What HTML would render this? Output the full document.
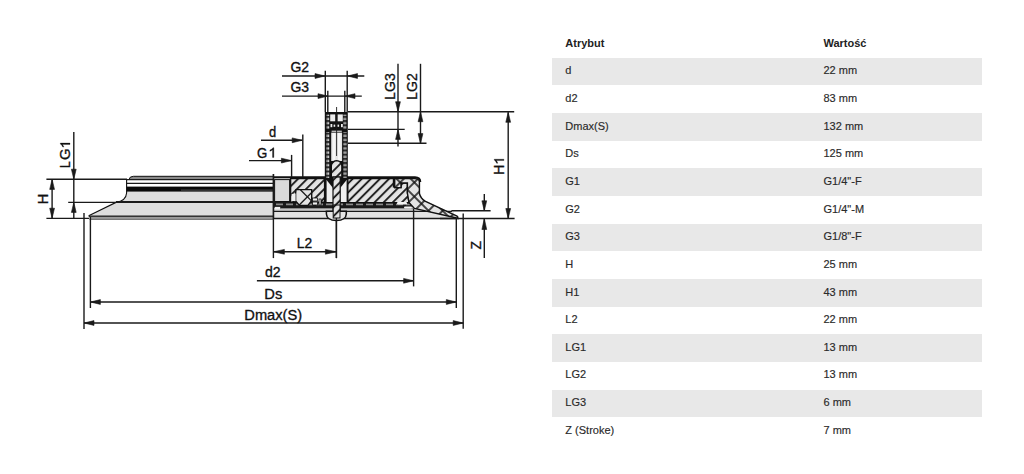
<!DOCTYPE html>
<html><head><meta charset="utf-8"><title>Specyfikacja</title>
<style>
html,body{margin:0;padding:0;background:#fff;}
body{width:1024px;height:474px;position:relative;overflow:hidden;font-family:"Liberation Sans",sans-serif;}
svg.dr{position:absolute;left:0;top:0;}
svg.dr text{font-family:"Liberation Sans",sans-serif;fill:#111;stroke:#111;stroke-width:0.32px;}
.tbl{position:absolute;left:0;top:0;width:1024px;height:474px;}
.row{position:absolute;left:551.5px;width:430px;height:27.65px;font-size:11px;color:#2a2a2a;-webkit-text-stroke:0.15px #2a2a2a;}
.row.g{background:#e8e8e8;}
.row span{position:absolute;top:6.5px;line-height:12px;white-space:nowrap;}
.c1{left:13.8px;}
.c2{left:272px;}
.hdr span{font-weight:bold;color:#222;-webkit-text-stroke:0;}
</style></head>
<body>
<svg class="dr" width="540" height="474" viewBox="0 0 540 474">
<path d="M129,179.5 Q129.5,176.3 133.5,176.3 L273.5,176.3 L273.5,179.5 Z" fill="#8a8a8a" stroke="#111" stroke-width="1"/>
<rect x="127" y="179.5" width="146.5" height="7" fill="#fff"/>
<line x1="126.5" y1="179.6" x2="273.5" y2="179.6" stroke="#1a1a1a" stroke-width="1.2" />
<line x1="126.5" y1="183.4" x2="273.5" y2="183.4" stroke="#1a1a1a" stroke-width="1.3" />
<rect x="126.6" y="186.6" width="147" height="5.2" fill="#0a0a0a"/>
<rect x="181" y="189.3" width="92.5" height="2.5" fill="#333"/>
<path d="M126.6,191.8 L126.6,193 Q126,201 116,202.4 L88.7,215.7 L273.5,215.7 L273.5,191.8 Z" fill="#dedede"/>
<path d="M126.6,179 L126.6,193 Q126,201 116,202.4 L88.7,215.7" fill="none" stroke="#111" stroke-width="1.1"/>
<line x1="116" y1="202.0" x2="273.5" y2="202.0" stroke="#1a1a1a" stroke-width="1.8" />
<line x1="88.7" y1="216.2" x2="273.5" y2="216.2" stroke="#1a1a1a" stroke-width="1.6" />
<rect x="89.5" y="216.8" width="184" height="2.6" fill="#9a9a9a"/>
<line x1="89.5" y1="219.4" x2="273.5" y2="219.4" stroke="#555" stroke-width="0.8" />
<defs>
<pattern id="h45" patternUnits="userSpaceOnUse" width="6.43" height="10" patternTransform="rotate(45)">
<rect x="0" y="0" width="6.43" height="10" fill="#e4e4e4"/>
<line x1="2.9" y1="-1" x2="2.9" y2="11" stroke="#111" stroke-width="1.8"/>
</pattern>
<pattern id="hx" patternUnits="userSpaceOnUse" width="10" height="10" patternTransform="rotate(45)">
<rect x="0" y="0" width="10" height="10" fill="#e4e4e4"/>
<line x1="2" y1="-1" x2="2" y2="11" stroke="#111" stroke-width="1.5"/>
<line x1="-1" y1="6" x2="11" y2="6" stroke="#111" stroke-width="1.5"/>
</pattern>
<pattern id="thr" patternUnits="userSpaceOnUse" width="6" height="4.4">
<rect x="0" y="0" width="6" height="4.4" fill="#111"/>
<rect x="1.2" y="0.4" width="2.6" height="2.2" fill="#c8c8c8"/>
</pattern>
<pattern id="thr2" patternUnits="userSpaceOnUse" width="3" height="4.2">
<rect x="0" y="0" width="3" height="4.2" fill="#2a2a2a"/>
<rect x="0.3" y="0.3" width="2.4" height="2.2" fill="#cfcfcf"/>
</pattern>
</defs>
<path d="M273.5,177.3 L415,177.3 Q420.3,177.5 420.3,182 L420.3,193 Q421,198 426,201 L457.5,215.8 Q460,217.6 457,218.4 L273.5,218.4 Z" fill="#e2e2e2"/>
<rect x="274" y="201.6" width="138" height="6.4" fill="#1a1a1a"/>
<line x1="276" y1="204.4" x2="410" y2="204.4" stroke="#8a8a8a" stroke-width="1.6" stroke-dasharray="7 3"/>
<rect x="274.6" y="206.9" width="5.6" height="2.5" fill="#f2f2f2"/>
<line x1="280" y1="208.9" x2="414" y2="208.9" stroke="#444" stroke-width="0.9" />
<rect x="274" y="209.4" width="140" height="1.5" fill="#d8d8d8"/>
<line x1="274" y1="211.4" x2="452" y2="211.4" stroke="#1a1a1a" stroke-width="1.3" />
<rect x="274" y="212.1" width="180" height="5.6" fill="#e4e4e4"/>
<line x1="273.5" y1="218.5" x2="459" y2="218.5" stroke="#1a1a1a" stroke-width="1.6" />
<rect x="274.6" y="179.6" width="15" height="21.9" fill="#dadada" stroke="#111" stroke-width="1"/>
<path d="M290.6,178.6 L324.6,178.6 L324.6,202.3 L290.6,202.3 Z" fill="url(#h45)" stroke="#111" stroke-width="1.4"/>
<path d="M296,189.6 L311.7,189.6 L311.7,200.5 L308,205.4 L299.5,205.4 L295.6,201 L295.6,193.5 Z" fill="#e4e4e4" stroke="#111" stroke-width="1.4"/>
<path d="M291.6,194 L295.6,193.5 L295.6,201 L291.6,201 Z" fill="#f0f0f0"/>
<line x1="300.4" y1="189.8" x2="311.7" y2="201.1" stroke="#1a1a1a" stroke-width="1.3" />
<line x1="299" y1="205.2" x2="311.7" y2="192.5" stroke="#1a1a1a" stroke-width="1.3" />
<rect x="312.5" y="198" width="5" height="3" fill="#eee" stroke="#111" stroke-width="0.8"/>
<rect x="312.5" y="202" width="5" height="3" fill="#eee" stroke="#111" stroke-width="0.8"/>
<rect x="319" y="199" width="2" height="6" fill="#eee" stroke="#111" stroke-width="0.8"/>
<path d="M347.8,178.6 L394.7,178.6 L394.7,187.6 L401,187.6 L401,183 L407.4,183 L407.4,193 L409,202.6 L347.8,202.6 Z" fill="url(#h45)" stroke="#111" stroke-width="1.4"/>
<rect x="392.8" y="178" width="2.2" height="9.6" fill="#111"/>
<path d="M394.7,178.6 L415,178.6 Q419.4,178.8 419.4,182 L419.4,193.5 Q420.5,198.5 425.5,201.3 L457,216.2 Q458.8,217.4 456.5,218 L414.4,208.4 L409,202.6 L407.4,193 L407.4,183 L401,183 L401,187.6 L394.7,187.6 Z" fill="url(#hx)" stroke="#111" stroke-width="1.4"/>
<rect x="397" y="202" width="10" height="2.4" rx="1.2" fill="#f4f4f4"/>
<rect x="404" y="206.6" width="8" height="2" rx="1" fill="#f4f4f4"/>
<path d="M273.5,177.2 L415,177.2 Q420.3,177.4 420.3,182" fill="none" stroke="#111" stroke-width="2"/>
<line x1="273.5" y1="174" x2="273.5" y2="219" stroke="#1a1a1a" stroke-width="1.3" />
<rect x="324.8" y="112" width="23" height="91" fill="#111"/>
<rect x="326.5" y="114.6" width="2.8" height="14.6" fill="url(#thr2)"/>
<rect x="343.5" y="114.6" width="2.8" height="14.6" fill="url(#thr2)"/>
<rect x="330.2" y="114.4" width="5" height="6.9" fill="#eee"/>
<rect x="337.6" y="114.4" width="5.2" height="6.9" fill="#eee"/>
<rect x="330.5" y="124" width="1.8" height="3.2" fill="#eee"/>
<rect x="333.6" y="124.6" width="1.6" height="2.2" fill="#eee"/>
<rect x="337.5" y="124.6" width="1.6" height="2.2" fill="#eee"/>
<rect x="341" y="124" width="1.8" height="3.2" fill="#eee"/>
<rect x="331.6" y="130.6" width="10.2" height="1.4" fill="#bbb"/>
<rect x="326.3" y="132" width="3" height="46" fill="url(#thr2)"/>
<rect x="343.5" y="132" width="3" height="46" fill="url(#thr2)"/>
<rect x="331.2" y="132.6" width="10.9" height="28.4" fill="#e4e4e4"/>
<rect x="332.6" y="133" width="2.6" height="27.5" fill="#f6f6f6"/>
<rect x="338" y="133" width="2.6" height="27.5" fill="#f6f6f6"/>
<line x1="336.6" y1="107" x2="336.6" y2="156" stroke="#1a1a1a" stroke-width="0.9" />
<path d="M331.4,177 L331.4,166 Q331.6,161 336.6,160.6 Q341.6,161 341.8,166 L341.8,177 Z" fill="url(#h45)" stroke="#111" stroke-width="1.2"/>
<rect x="326.6" y="180" width="6.4" height="22" fill="#efefef"/>
<rect x="340.2" y="180" width="6.4" height="22" fill="#efefef"/>
<path d="M326.6,180 L333,180 L333,188 Z" fill="#111"/>
<path d="M346.6,180 L340.2,180 L340.2,188 Z" fill="#111"/>
<rect x="333" y="177" width="7.2" height="38" fill="url(#h45)" stroke="#111" stroke-width="1.2"/>
<path d="M326.4,211.3 L346.3,211.3 L346.3,214 Q346,220.4 336.4,220.6 Q326.8,220.4 326.4,214 Z" fill="#e6e6e6" stroke="#111" stroke-width="1.5"/>
<rect x="333.2" y="205" width="6.8" height="13" fill="url(#h45)" stroke="#111" stroke-width="1"/>
<line x1="336.4" y1="218" x2="336.4" y2="258.1" stroke="#1a1a1a" stroke-width="1.4" />
<line x1="46.4" y1="179.3" x2="127" y2="179.3" stroke="#1a1a1a" stroke-width="1.4" />
<line x1="68.2" y1="202.4" x2="116" y2="202.4" stroke="#1a1a1a" stroke-width="1.4" />
<line x1="46.4" y1="218.4" x2="89" y2="218.4" stroke="#1a1a1a" stroke-width="1.4" />
<line x1="52.1" y1="179.4" x2="52.1" y2="218.2" stroke="#1a1a1a" stroke-width="1.4" />
<polygon points="52.10,179.40 49.70,189.40 54.50,189.40" fill="#1a1a1a" stroke="#1a1a1a" stroke-width="0.6" stroke-linejoin="round"/>
<polygon points="52.10,218.20 49.70,208.20 54.50,208.20" fill="#1a1a1a" stroke="#1a1a1a" stroke-width="0.6" stroke-linejoin="round"/>
<text transform="translate(48.2,199) rotate(-90)" x="0" y="0" font-size="13.8" text-anchor="middle" textLength="10.6" lengthAdjust="spacingAndGlyphs">H</text>
<line x1="73.8" y1="132" x2="73.8" y2="218.6" stroke="#1a1a1a" stroke-width="1.4" />
<polygon points="73.80,179.20 71.40,169.20 76.20,169.20" fill="#1a1a1a" stroke="#1a1a1a" stroke-width="0.6" stroke-linejoin="round"/>
<polygon points="73.80,202.40 71.40,212.40 76.20,212.40" fill="#1a1a1a" stroke="#1a1a1a" stroke-width="0.6" stroke-linejoin="round"/>
<text transform="translate(70.0,154.8) rotate(-90)" x="-13.19" y="0" font-size="13.8" textLength="6.69" lengthAdjust="spacingAndGlyphs">L</text>
<text transform="translate(70.0,154.8) rotate(-90)" x="-5.15" y="0" font-size="13.8" textLength="11.56" lengthAdjust="spacingAndGlyphs">G</text>
<path transform="translate(70.0,154.8) rotate(-90) translate(6.15,0) scale(0.007275,-0.006592)" d="M763,0 L583,0 L583,1147 Q518,1085 412,1023 Q306,961 222,930 L222,1104 Q373,1175 486,1276 Q599,1377 646,1466 L763,1466 Z" fill="#111" stroke="#111" stroke-width="44.0"/>
<line x1="84" y1="213" x2="84" y2="329" stroke="#1a1a1a" stroke-width="1.4" />
<line x1="463.2" y1="213.5" x2="463.2" y2="328.8" stroke="#1a1a1a" stroke-width="1.4" />
<line x1="90.4" y1="217" x2="90.4" y2="308" stroke="#1a1a1a" stroke-width="1.4" />
<line x1="456.3" y1="218" x2="456.3" y2="308" stroke="#1a1a1a" stroke-width="1.4" />
<line x1="84" y1="323" x2="463.2" y2="323" stroke="#1a1a1a" stroke-width="1.4" />
<polygon points="84.00,323.00 94.00,320.60 94.00,325.40" fill="#1a1a1a" stroke="#1a1a1a" stroke-width="0.6" stroke-linejoin="round"/>
<polygon points="463.20,323.00 453.20,320.60 453.20,325.40" fill="#1a1a1a" stroke="#1a1a1a" stroke-width="0.6" stroke-linejoin="round"/>
<line x1="90.4" y1="302" x2="456.3" y2="302" stroke="#1a1a1a" stroke-width="1.4" />
<polygon points="90.40,302.00 100.40,299.60 100.40,304.40" fill="#1a1a1a" stroke="#1a1a1a" stroke-width="0.6" stroke-linejoin="round"/>
<polygon points="456.30,302.00 446.30,299.60 446.30,304.40" fill="#1a1a1a" stroke="#1a1a1a" stroke-width="0.6" stroke-linejoin="round"/>
<text x="244.3" y="319.9" font-size="13.8" text-anchor="start" textLength="57.8" lengthAdjust="spacingAndGlyphs">Dmax(S)</text>
<text x="264.3" y="298.8" font-size="13.8" text-anchor="start" textLength="18" lengthAdjust="spacingAndGlyphs">Ds</text>
<line x1="256.9" y1="280.8" x2="413.6" y2="280.8" stroke="#1a1a1a" stroke-width="1.4" />
<polygon points="413.60,280.80 403.60,278.40 403.60,283.20" fill="#1a1a1a" stroke="#1a1a1a" stroke-width="0.6" stroke-linejoin="round"/>
<line x1="413.6" y1="208.9" x2="413.6" y2="286.4" stroke="#1a1a1a" stroke-width="1.4" />
<text x="264.9" y="277.3" font-size="13.8" text-anchor="start" textLength="15.6" lengthAdjust="spacingAndGlyphs">d2</text>
<line x1="273.4" y1="174" x2="273.4" y2="258.1" stroke="#1a1a1a" stroke-width="1.4" />
<line x1="336.4" y1="220" x2="336.4" y2="258.1" stroke="#1a1a1a" stroke-width="1.4" />
<line x1="273.4" y1="251.8" x2="336.4" y2="251.8" stroke="#1a1a1a" stroke-width="1.4" />
<polygon points="273.40,251.80 284.40,249.40 284.40,254.20" fill="#1a1a1a" stroke="#1a1a1a" stroke-width="0.6" stroke-linejoin="round"/>
<polygon points="336.40,251.80 325.40,249.40 325.40,254.20" fill="#1a1a1a" stroke="#1a1a1a" stroke-width="0.6" stroke-linejoin="round"/>
<text x="296.7" y="247.8" font-size="13.8" text-anchor="start" textLength="15.4" lengthAdjust="spacingAndGlyphs">L2</text>
<line x1="261" y1="140.3" x2="302.2" y2="140.3" stroke="#1a1a1a" stroke-width="1.4" />
<polygon points="302.20,140.30 292.20,137.90 292.20,142.70" fill="#1a1a1a" stroke="#1a1a1a" stroke-width="0.6" stroke-linejoin="round"/>
<line x1="302.8" y1="134.6" x2="302.8" y2="177" stroke="#1a1a1a" stroke-width="1.4" />
<text x="269.1" y="137.0" font-size="13.8" text-anchor="start" textLength="7.2" lengthAdjust="spacingAndGlyphs">d</text>
<line x1="249" y1="160.6" x2="291.4" y2="160.6" stroke="#1a1a1a" stroke-width="1.4" />
<polygon points="291.40,160.60 281.40,158.20 281.40,163.00" fill="#1a1a1a" stroke="#1a1a1a" stroke-width="0.6" stroke-linejoin="round"/>
<line x1="291.6" y1="154.9" x2="291.6" y2="177" stroke="#1a1a1a" stroke-width="1.4" />
<text x="257.1" y="157.6" font-size="13.8" text-anchor="start" textLength="10.3" lengthAdjust="spacingAndGlyphs">G</text>
<path transform="translate(268.3,157.4) scale(0.007275,-0.006592)" d="M763,0 L583,0 L583,1147 Q518,1085 412,1023 Q306,961 222,930 L222,1104 Q373,1175 486,1276 Q599,1377 646,1466 L763,1466 Z" fill="#111" stroke="#111" stroke-width="44.0"/>
<line x1="282" y1="76" x2="364.3" y2="76" stroke="#1a1a1a" stroke-width="1.4" />
<polygon points="325.00,76.00 315.00,73.60 315.00,78.40" fill="#1a1a1a" stroke="#1a1a1a" stroke-width="0.6" stroke-linejoin="round"/>
<polygon points="347.50,76.00 357.50,73.60 357.50,78.40" fill="#1a1a1a" stroke="#1a1a1a" stroke-width="0.6" stroke-linejoin="round"/>
<line x1="325.3" y1="70.8" x2="325.3" y2="112" stroke="#1a1a1a" stroke-width="1.4" />
<line x1="347.2" y1="70.8" x2="347.2" y2="112" stroke="#1a1a1a" stroke-width="1.4" />
<text x="290.4" y="72.0" font-size="13.8" text-anchor="start" textLength="18.6" lengthAdjust="spacingAndGlyphs">G2</text>
<line x1="282" y1="96.1" x2="361.8" y2="96.1" stroke="#1a1a1a" stroke-width="1.4" />
<polygon points="328.00,96.10 318.00,93.70 318.00,98.50" fill="#1a1a1a" stroke="#1a1a1a" stroke-width="0.6" stroke-linejoin="round"/>
<polygon points="345.00,96.10 355.00,93.70 355.00,98.50" fill="#1a1a1a" stroke="#1a1a1a" stroke-width="0.6" stroke-linejoin="round"/>
<line x1="327.8" y1="90.7" x2="327.8" y2="112" stroke="#1a1a1a" stroke-width="1.4" />
<line x1="344.8" y1="90.7" x2="344.8" y2="112" stroke="#1a1a1a" stroke-width="1.4" />
<text x="290.4" y="92.3" font-size="13.8" text-anchor="start" textLength="18.6" lengthAdjust="spacingAndGlyphs">G3</text>
<line x1="398" y1="63.8" x2="398" y2="146.5" stroke="#1a1a1a" stroke-width="1.4" />
<polygon points="398.00,111.70 395.60,101.70 400.40,101.70" fill="#1a1a1a" stroke="#1a1a1a" stroke-width="0.6" stroke-linejoin="round"/>
<polygon points="398.00,129.40 395.60,139.40 400.40,139.40" fill="#1a1a1a" stroke="#1a1a1a" stroke-width="0.6" stroke-linejoin="round"/>
<text transform="translate(394.8,86.6) rotate(-90)" x="0" y="0" font-size="13.8" text-anchor="middle" textLength="26.6" lengthAdjust="spacingAndGlyphs">LG3</text>
<line x1="420.5" y1="63.8" x2="420.5" y2="143.6" stroke="#1a1a1a" stroke-width="1.4" />
<polygon points="420.50,111.70 418.10,121.70 422.90,121.70" fill="#1a1a1a" stroke="#1a1a1a" stroke-width="0.6" stroke-linejoin="round"/>
<polygon points="420.50,143.60 418.10,133.60 422.90,133.60" fill="#1a1a1a" stroke="#1a1a1a" stroke-width="0.6" stroke-linejoin="round"/>
<text transform="translate(417.0,86.6) rotate(-90)" x="0" y="0" font-size="13.8" text-anchor="middle" textLength="26.6" lengthAdjust="spacingAndGlyphs">LG2</text>
<line x1="348" y1="111.8" x2="514.2" y2="111.8" stroke="#1a1a1a" stroke-width="1.4" />
<line x1="348" y1="129.4" x2="404.7" y2="129.4" stroke="#1a1a1a" stroke-width="1.4" />
<line x1="348" y1="143.2" x2="426.5" y2="143.2" stroke="#1a1a1a" stroke-width="1.4" />
<line x1="508.2" y1="112.3" x2="508.2" y2="218.5" stroke="#1a1a1a" stroke-width="1.4" />
<polygon points="508.20,112.30 505.80,122.30 510.60,122.30" fill="#1a1a1a" stroke="#1a1a1a" stroke-width="0.6" stroke-linejoin="round"/>
<polygon points="508.20,218.50 505.80,208.50 510.60,208.50" fill="#1a1a1a" stroke="#1a1a1a" stroke-width="0.6" stroke-linejoin="round"/>
<text transform="translate(503.9,166.4) rotate(-90)" x="-8.57" y="0" font-size="13.8" textLength="10.34" lengthAdjust="spacingAndGlyphs">H</text>
<path transform="translate(503.9,166.4) rotate(-90) translate(1.6,0) scale(0.007275,-0.006592)" d="M763,0 L583,0 L583,1147 Q518,1085 412,1023 Q306,961 222,930 L222,1104 Q373,1175 486,1276 Q599,1377 646,1466 L763,1466 Z" fill="#111" stroke="#111" stroke-width="44.0"/>
<line x1="451.4" y1="210.8" x2="490.6" y2="210.8" stroke="#1a1a1a" stroke-width="1.4" />
<line x1="440" y1="218.5" x2="514.6" y2="218.5" stroke="#1a1a1a" stroke-width="1.4" />
<line x1="484.3" y1="194" x2="484.3" y2="210.8" stroke="#1a1a1a" stroke-width="1.4" />
<polygon points="484.30,210.80 481.90,200.80 486.70,200.80" fill="#1a1a1a" stroke="#1a1a1a" stroke-width="0.6" stroke-linejoin="round"/>
<line x1="484.3" y1="218.5" x2="484.3" y2="258" stroke="#1a1a1a" stroke-width="1.4" />
<polygon points="484.30,218.50 481.90,229.50 486.70,229.50" fill="#1a1a1a" stroke="#1a1a1a" stroke-width="0.6" stroke-linejoin="round"/>
<text transform="translate(480.6,245.2) rotate(-90)" x="0" y="0" font-size="13.8" text-anchor="middle">Z</text>
</svg>
<div class="tbl">
<div class="row hdr" style="top:30.15px"><span class="c1">Atrybut</span><span class="c2">Wartość</span></div>
<div class="row g" style="top:57.80px"><span class="c1">d</span><span class="c2">22 mm</span></div>
<div class="row" style="top:85.45px"><span class="c1">d2</span><span class="c2">83 mm</span></div>
<div class="row g" style="top:113.10px"><span class="c1">Dmax(S)</span><span class="c2">132 mm</span></div>
<div class="row" style="top:140.75px"><span class="c1">Ds</span><span class="c2">125 mm</span></div>
<div class="row g" style="top:168.40px"><span class="c1">G1</span><span class="c2">G1/4"-F</span></div>
<div class="row" style="top:196.05px"><span class="c1">G2</span><span class="c2">G1/4"-M</span></div>
<div class="row g" style="top:223.70px"><span class="c1">G3</span><span class="c2">G1/8"-F</span></div>
<div class="row" style="top:251.35px"><span class="c1">H</span><span class="c2">25 mm</span></div>
<div class="row g" style="top:279.00px"><span class="c1">H1</span><span class="c2">43 mm</span></div>
<div class="row" style="top:306.65px"><span class="c1">L2</span><span class="c2">22 mm</span></div>
<div class="row g" style="top:334.30px"><span class="c1">LG1</span><span class="c2">13 mm</span></div>
<div class="row" style="top:361.95px"><span class="c1">LG2</span><span class="c2">13 mm</span></div>
<div class="row g" style="top:389.60px"><span class="c1">LG3</span><span class="c2">6 mm</span></div>
<div class="row" style="top:417.25px"><span class="c1">Z (Stroke)</span><span class="c2">7 mm</span></div>
</div>
</body></html>
